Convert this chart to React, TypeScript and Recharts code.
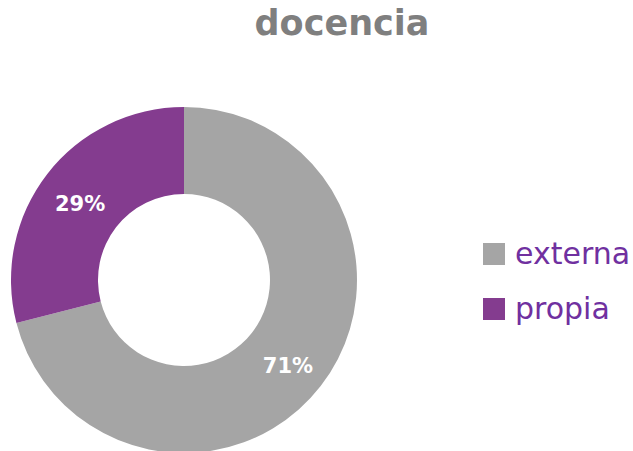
import React from 'react';
import { PieChart, Pie, Cell, Legend } from 'recharts';

const categories = ['externa', 'propia'];
const values = [71, 29];
const colors = ['#a5a5a5', '#843c8f'];
const title = 'docencia';

const data = categories.map((name, i) => ({ name, value: values[i] }));

const RADIAN = Math.PI / 180;

const renderLabel = (props: any) => {
  const { cx, cy, midAngle, innerRadius, outerRadius, percent } = props;
  const r = (innerRadius + outerRadius) / 2 + 2;
  const x = cx + r * Math.cos(-midAngle * RADIAN);
  const y = cy + r * Math.sin(-midAngle * RADIAN) + 5;
  return <text x={x} y={y} fill="#fff" textAnchor="middle" dominantBaseline="central" fontFamily="DejaVu Sans" fontWeight="bold" fontSize={21}>
      {`${Math.round(percent * 100)}%`}
    </text>;
};

const renderLegend = () => <div>
    {categories.map((c, i) => <div key={c} style={{
    display: 'flex',
    alignItems: 'center',
    height: 55
  }}>
        <div style={{
      width: 22,
      height: 22,
      background: colors[i],
      marginRight: 10
    }} />
        <span style={{
      color: '#7030a0',
      fontFamily: 'DejaVu Sans',
      fontSize: 30,
      lineHeight: '30px'
    }}>{c}</span>
      </div>)}
  </div>;

export default function App() {
  return <div style={{
    position: 'absolute',
    left: 0,
    top: 0,
    width: 633,
    height: 451,
    background: '#fff',
    overflow: 'hidden'
  }}>
      <div style={{
      position: 'absolute',
      left: 0,
      width: 684,
      top: 0,
      textAlign: 'center',
      fontFamily: 'DejaVu Sans',
      fontWeight: 'bold',
      fontSize: 35,
      color: '#7f7f7f',
      lineHeight: '46px'
    }}>{title}</div>
      <PieChart width={633} height={451} margin={{ top: 0, right: 0, bottom: 0, left: 0 }}>
        <Pie data={data} dataKey="value" nameKey="name" cx={184} cy={280} innerRadius={86} outerRadius={173} startAngle={90} endAngle={-270} stroke="none" label={renderLabel} labelLine={false} isAnimationActive={false}>
          {data.map((d, i) => <Cell key={d.name} fill={colors[i]} />)}
        </Pie>
        <Legend content={renderLegend} wrapperStyle={{
        left: 483,
        top: 226,
        width: 150
      }} />
      </PieChart>
    </div>;
}
